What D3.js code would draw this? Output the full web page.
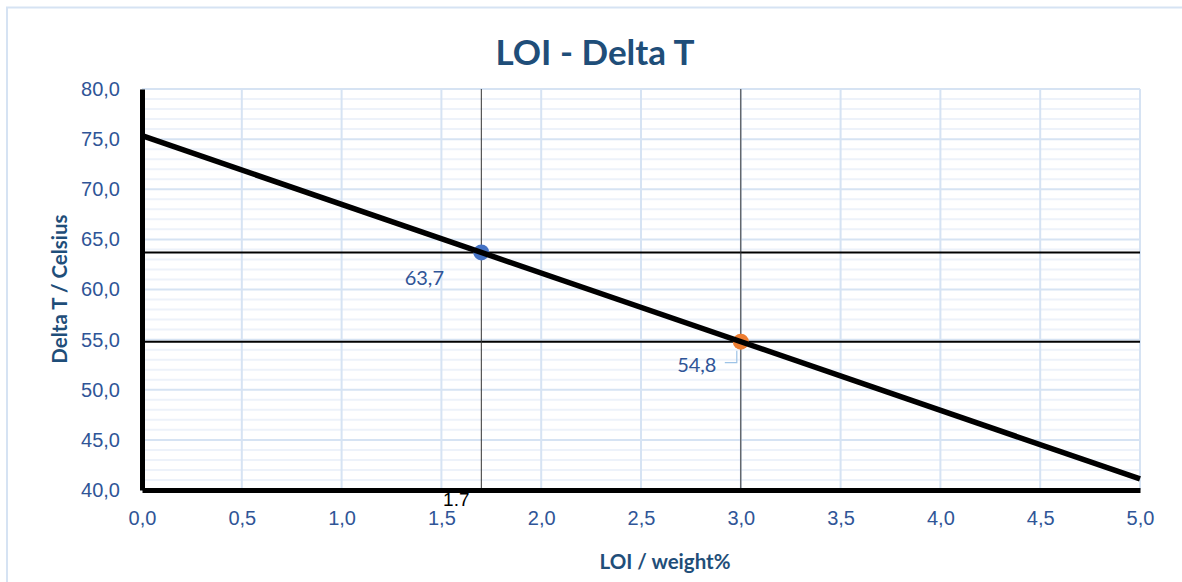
<!DOCTYPE html>
<html>
<head>
<meta charset="utf-8">
<script src="https://cdn.jsdelivr.net/npm/d3@7"></script>
<style>
  body { margin: 0; background: #fff; }
  svg { display: block; font-family: Lato, "Open Sans", sans-serif; }
</style>
</head>
<body>
<svg id="chart" width="1182" height="582"></svg>
<script>
// trend line end points (LOI, Delta T)
const lineX = [0, 5];
const lineY = [75.34, 41.1];

// marked points
const pointX = [1.7, 3.0];
const pointY = [63.7, 54.8];
const pointLabels = ["63,7", "54,8"];
const pointColors = ["#4472c4", "#ed7d31"];

const xTicks = [0, 0.5, 1, 1.5, 2, 2.5, 3, 3.5, 4, 4.5, 5];
const yTicks = [40, 45, 50, 55, 60, 65, 70, 75, 80];
const yMinor = d3.range(40, 81, 1);

const svg = d3.select("#chart");
const plotL = 142, plotR = 1140, plotT = 89, plotB = 490;

const x = d3.scaleLinear().domain([0, 5]).range([plotL, plotR]);
const y = d3.scaleLinear().domain([40, 80]).range([plotB, plotT]);
const fmt = d => d.toFixed(1).replace(".", ",");
const blue = "#2f5597";

// chart frame
svg.append("path")
  .attr("d", "M7,582 V7.5 H1182")
  .attr("fill", "none")
  .attr("stroke", "#d6e3f3")
  .attr("stroke-width", 2);

// minor horizontal grid
svg.append("g")
  .selectAll("line")
  .data(yMinor.filter(v => v % 5 !== 0))
  .enter()
  .append("line")
  .attr("x1", plotL).attr("x2", plotR)
  .attr("y1", d => y(d)).attr("y2", d => y(d))
  .attr("stroke", "#edf2fa")
  .attr("stroke-width", 2);

// major grid
svg.append("g")
  .selectAll("line")
  .data(yTicks)
  .enter()
  .append("line")
  .attr("x1", plotL).attr("x2", plotR)
  .attr("y1", d => y(d)).attr("y2", d => y(d))
  .attr("stroke", "#d6e3f3")
  .attr("stroke-width", 2);

svg.append("g")
  .selectAll("line")
  .data(xTicks)
  .enter()
  .append("line")
  .attr("x1", d => x(d)).attr("x2", d => x(d))
  .attr("y1", plotT).attr("y2", plotB)
  .attr("stroke", "#d6e3f3")
  .attr("stroke-width", 2);

// reference lines through the points
svg.append("g")
  .selectAll("line")
  .data(pointY)
  .enter()
  .append("line")
  .attr("x1", plotL).attr("x2", plotR)
  .attr("y1", d => y(d)).attr("y2", d => y(d))
  .attr("stroke", "#000")
  .attr("stroke-width", 2);

svg.append("g")
  .selectAll("line")
  .data(pointX)
  .enter()
  .append("line")
  .attr("x1", d => x(d)).attr("x2", d => x(d))
  .attr("y1", plotT).attr("y2", plotB)
  .attr("stroke", "#333")
  .attr("stroke-width", 1);

// axes
const xAxis = svg.append("g")
  .attr("transform", `translate(0,${plotB})`)
  .call(d3.axisBottom(x).tickValues(xTicks).tickFormat(fmt).tickSize(0).tickPadding(21));
xAxis.select(".domain").attr("stroke", "#000").attr("stroke-width", 5);
xAxis.selectAll("text").attr("font-size", 20).attr("fill", blue);

const yAxis = svg.append("g")
  .attr("transform", `translate(${plotL},0)`)
  .call(d3.axisLeft(y).tickValues(yTicks).tickFormat(fmt).tickSize(0).tickPadding(22));
yAxis.select(".domain").attr("stroke", "#000").attr("stroke-width", 5);
yAxis.selectAll("text").attr("font-size", 20).attr("fill", blue);

// leader line for 54,8
svg.append("path")
  .attr("d", `M${x(pointX[1]) - 16},${y(pointY[1]) + 21} H${x(pointX[1]) - 4} V${y(pointY[1]) + 9}`)
  .attr("fill", "none")
  .attr("stroke", "#9dc3e6")
  .attr("stroke-width", 1.2);

// markers
svg.append("g")
  .selectAll("circle")
  .data(pointX)
  .enter()
  .append("circle")
  .attr("cx", d => x(d))
  .attr("cy", (d, i) => y(pointY[i]))
  .attr("r", 8)
  .attr("fill", (d, i) => pointColors[i]);

// trend line drawn over the markers
svg.append("path")
  .datum(lineX.map((d, i) => [d, lineY[i]]))
  .attr("d", d3.line().x(d => x(d[0])).y(d => y(d[1])))
  .attr("fill", "none")
  .attr("stroke", "#000")
  .attr("stroke-width", 5.5);

// point labels
const labelOffsets = [[-57, 33], [-44, 30]];
svg.append("g")
  .selectAll("text")
  .data(pointLabels)
  .enter()
  .append("text")
  .attr("x", (d, i) => x(pointX[i]) + labelOffsets[i][0])
  .attr("y", (d, i) => y(pointY[i]) + labelOffsets[i][1])
  .attr("text-anchor", "middle")
  .attr("font-size", 20)
  .attr("fill", blue)
  .text(d => d);

// 1.7 marker label
svg.append("text")
  .attr("x", x(pointX[0]) - 25)
  .attr("y", plotB + 16)
  .attr("text-anchor", "middle")
  .attr("font-size", 19)
  .attr("font-family", "Liberation Sans, Arial, sans-serif")
  .attr("fill", "#000")
  .text("1.7");

// titles
svg.append("text")
  .attr("x", 595).attr("y", 65)
  .attr("text-anchor", "middle")
  .attr("font-size", 35)
  .attr("font-weight", "bold")
  .attr("fill", "#1f4e79")
  .text("LOI - Delta T");

svg.append("text")
  .attr("x", 665).attr("y", 569)
  .attr("text-anchor", "middle")
  .attr("font-size", 20.5)
  .attr("font-weight", "bold")
  .attr("fill", "#1f4e79")
  .text("LOI / weight%");

svg.append("text")
  .attr("transform", `translate(67,289) rotate(-90)`)
  .attr("text-anchor", "middle")
  .attr("font-size", 20.5)
  .attr("font-weight", "bold")
  .attr("fill", "#1f4e79")
  .text("Delta T / Celsius");
</script>
</body>
</html>
